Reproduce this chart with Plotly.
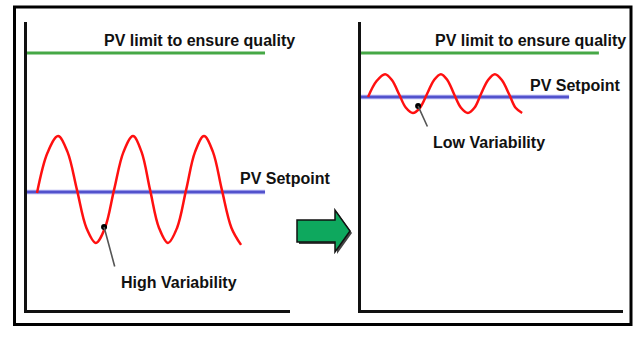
import plotly.graph_objects as go
from plotly.subplots import make_subplots

W, H = 642, 337

# Shared process-variable scale (0-100) for both panels
pv_limit = 89.2

# Before: high variability around a lower setpoint
high_setpoint = 41.0
high_x = [3.8, 7.8, 11.8, 15.4, 19.0, 22.6, 26.2, 29.65, 33.1, 36.7, 40.3, 43.55, 46.8,
          50.2, 53.6, 57.05, 60.5, 63.9, 67.3, 70.7, 74.1, 77.75, 81.4]
high_y = [40.6, 54.6, 60.4, 54.9, 41.7, 28.5, 23.3, 28.5, 41.7, 54.9, 60.4, 54.9, 41.7,
          28.5, 23.3, 28.5, 41.7, 54.9, 60.4, 54.9, 41.7, 28.5, 22.6]

# After: low variability, setpoint moved towards the limit
low_setpoint = 74.0
low_x = [2.7, 5.95, 9.2, 11.85, 14.5, 17.15, 19.8, 22.5, 25.2, 27.85, 30.5, 33.0, 35.5,
         38.15, 40.8, 43.3, 45.8, 48.45, 51.1, 53.8, 56.5, 59.0, 61.5]
low_y = [74.0, 79.5, 81.9, 79.8, 75.0, 70.2, 68.4, 70.2, 75.0, 79.8, 81.9, 79.8, 75.0,
         70.2, 68.4, 70.2, 75.0, 79.8, 81.9, 79.8, 75.0, 70.2, 68.4]

limit_label = "PV limit to ensure quality"
setpoint_label = "PV Setpoint"
panel_labels = ["High Variability", "Low Variability"]


def px_x(p):
    return p / W


def px_y(p):
    return 1 - p / H


fig = make_subplots(rows=1, cols=2)

FONT = dict(family="Liberation Sans, Arial, sans-serif", size=16, color="#111111")
GREEN = "#46a846"
BLUE = "#5252cc"
RED = "#ff1010"

panels = [
    dict(col=1, sp=high_setpoint, wx=high_x, wy=high_y, green_end=90.5, blue_end=90.5,
         lim_x=28.6, sp_x=80.4, sp_y=45.5, lab=panel_labels[0], lab_x=34.8, lab_y=9.4,
         dot=(29.3, 28.8), tail=(33.5, 14.6)),
    dict(col=2, sp=low_setpoint, wx=low_x, wy=low_y, green_end=90.8, blue_end=79.4,
         lim_x=27.4, sp_x=63.6, sp_y=77.8, lab=panel_labels[1], lab_x=26.9, lab_y=58.0,
         dot=(21.8, 70.8), tail=(25.6, 63.2)),
]

for p in panels:
    c = p["col"]
    # quality limit
    fig.add_trace(go.Scatter(x=[0, p["green_end"]], y=[pv_limit, pv_limit], mode="lines",
                             line=dict(color=GREEN, width=3), hoverinfo="skip"), row=1, col=c)
    # setpoint (soft halo + core)
    fig.add_trace(go.Scatter(x=[0, p["blue_end"]], y=[p["sp"], p["sp"]], mode="lines",
                             line=dict(color="rgba(150,150,235,0.8)", width=4.5), hoverinfo="skip"),
                  row=1, col=c)
    fig.add_trace(go.Scatter(x=[0, p["blue_end"]], y=[p["sp"], p["sp"]], mode="lines",
                             line=dict(color=BLUE, width=2.5), hoverinfo="skip"), row=1, col=c)
    # process variable
    fig.add_trace(go.Scatter(x=p["wx"], y=p["wy"], mode="lines",
                             line=dict(color=RED, width=2.5, shape="spline", smoothing=1.0),
                             hoverinfo="skip"), row=1, col=c)

    xr = "x" if c == 1 else "x2"
    yr = "y" if c == 1 else "y2"
    fig.add_annotation(x=p["lim_x"], y=93.5, xref=xr, yref=yr, text=f"<b>{limit_label}</b>",
                       showarrow=False, xanchor="left", yanchor="middle", font=FONT)
    fig.add_annotation(x=p["sp_x"], y=p["sp_y"], xref=xr, yref=yr, text=f"<b>{setpoint_label}</b>",
                       showarrow=False, xanchor="left", yanchor="middle", font=FONT)
    fig.add_annotation(x=p["lab_x"], y=p["lab_y"], xref=xr, yref=yr, text=f"<b>{p['lab']}</b>",
                       showarrow=False, xanchor="left", yanchor="middle", font=FONT)
    # pointer line to the curve
    fig.add_annotation(x=p["dot"][0], y=p["dot"][1], ax=p["tail"][0], ay=p["tail"][1],
                       xref=xr, yref=yr, axref=xr, ayref=yr, text="", showarrow=True,
                       arrowhead=0, arrowwidth=1.6, arrowcolor="#555555")
    fig.add_trace(go.Scatter(x=[p["dot"][0]], y=[p["dot"][1]], mode="markers",
                             marker=dict(color="#000000", size=6), hoverinfo="skip"), row=1, col=c)

axis_common = dict(showgrid=False, zeroline=False, showticklabels=False, ticks="",
                   showline=True, linecolor="#111111", linewidth=3, range=[0, 100])
fig.update_xaxes(**axis_common)
fig.update_yaxes(**axis_common)
fig.update_layout(
    xaxis=dict(domain=[px_x(27), px_x(290)]),
    xaxis2=dict(domain=[px_x(361), px_x(623)]),
    yaxis=dict(domain=[px_y(310), px_y(22)]),
    yaxis2=dict(domain=[px_y(310), px_y(22)]),
)

# outer frame
fig.add_shape(type="rect", xref="paper", yref="paper",
              x0=px_x(14.5), x1=px_x(631), y0=px_y(324.5), y1=px_y(7),
              line=dict(color="#000000", width=3))

# green transition arrow with shadow
def arrow_path(dx=0, dy=0):
    pts = [(297, 220), (335, 220), (335, 210), (350, 231), (335, 252), (335, 242), (297, 242)]
    return "M " + " L ".join(f"{px_x(x + dx)},{px_y(y + dy)}" for x, y in pts) + " Z"

fig.add_shape(type="path", xref="paper", yref="paper", path=arrow_path(2, 2),
              fillcolor="#444444", line=dict(width=0))
fig.add_shape(type="path", xref="paper", yref="paper", path=arrow_path(),
              fillcolor="#0ea85e", line=dict(color="#111111", width=1.5))

fig.update_layout(width=W, height=H, margin=dict(l=0, r=0, t=0, b=0),
                  paper_bgcolor="white", plot_bgcolor="white", showlegend=False)

fig.write_html("out.html")
